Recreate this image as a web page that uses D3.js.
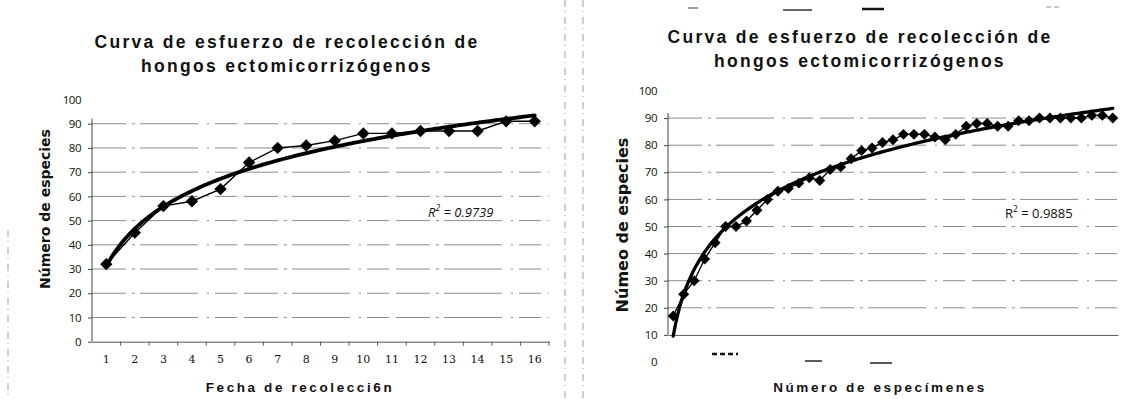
<!DOCTYPE html>
<html>
<head>
<meta charset="utf-8">
<script src="https://cdn.jsdelivr.net/npm/d3@7"></script>
<style>
  body { margin: 0; background: #fff; }
  svg { display: block; }
  text { fill: #111; }
</style>
</head>
<body>
<div id="main"></div>
<script>
// left chart: species found per collection date
const leftDates = [1, 2, 3, 4, 5, 6, 7, 8, 9, 10, 11, 12, 13, 14, 15, 16];
const leftSpecies = [32, 45, 56, 58, 63, 74, 80, 81, 83, 86, 86, 87, 87, 87, 91, 91];
const leftR2 = '0.9739';

// right chart: species vs number of specimens (no tick labels on x)
const rightSpecies = [17, 25, 30, 38, 44, 50, 50, 52, 56, 60, 63, 64, 66, 68, 67, 71, 72,
  75, 78, 79, 81, 82, 84, 84, 84, 83, 82, 84, 87, 88, 88, 87, 87, 89, 89, 90, 90, 90, 90,
  90, 91, 91, 90];
const rightR2 = '0.9885';

const yTicks = [0, 10, 20, 30, 40, 50, 60, 70, 80, 90, 100];
const titleLines = ['Curva de esfuerzo de recolección de', 'hongos ectomicorrizógenos'];

const width = 1126;
const height = 399;

const svg = d3.select('#main').append('svg')
  .attr('width', width)
  .attr('height', height);

// faint scan frame lines
[[8, 230, 399], [565, 0, 399], [583, 0, 399]].forEach(function(l) {
  svg.append('line')
    .attr('x1', l[0]).attr('x2', l[0])
    .attr('y1', l[1]).attr('y2', l[2])
    .attr('stroke', '#a0a0a0')
    .attr('stroke-width', 1)
    .attr('stroke-dasharray', '7,4,1,5');
});

// stray scan marks around the right chart
[[688, 698, 8, 1.5, '#777'], [783, 812, 10, 1.5, '#333'], [862, 884, 9, 2.5, '#111'],
 [1046, 1060, 7, 1, '#999'], [712, 738, 354, 2.5, '#111'], [805, 822, 361, 1.5, '#222'],
 [870, 892, 363, 1.5, '#222']].forEach(function(m) {
  svg.append('line')
    .attr('x1', m[0]).attr('x2', m[1])
    .attr('y1', m[2]).attr('y2', m[2])
    .attr('stroke', m[4])
    .attr('stroke-width', m[3])
    .attr('stroke-dasharray', m[0] === 712 || m[0] === 1046 ? '5,3' : null);
});

// least squares fit y = a*ln(x) + b, same as the spreadsheet trendline
function logFit(values) {
  const xs = values.map(function(d, i) { return Math.log(i + 1); });
  const mx = d3.mean(xs);
  const my = d3.mean(values);
  let sxy = 0, sxx = 0;
  xs.forEach(function(x, i) {
    sxy += (x - mx) * (values[i] - my);
    sxx += (x - mx) * (x - mx);
  });
  const a = sxy / sxx;
  return { a: a, b: my - a * mx };
}

function drawPanel(cfg) {
  const g = svg.append('g');
  const n = cfg.values.length;

  const x = d3.scaleBand()
    .domain(d3.range(1, n + 1))
    .range([cfg.left, cfg.right]);
  const half = x.bandwidth() / 2;
  const xc = d3.scaleLinear()
    .domain([1, n])
    .range([x(1) + half, x(n) + half]);
  const y = d3.scaleLinear()
    .domain([0, 100])
    .range([cfg.y0, cfg.y100]);

  // title
  g.selectAll('text.title')
    .data(titleLines)
    .enter()
    .append('text')
    .attr('class', 'title')
    .attr('x', cfg.titleX)
    .attr('y', function(d, i) { return cfg.titleY + i * 24; })
    .attr('text-anchor', 'middle')
    .style('font-family', 'Liberation Sans, Arial, sans-serif')
    .style('font-weight', 'bold')
    .style('font-size', '17.5px')
    .style('letter-spacing', '2.3px')
    .text(function(d) { return d; });

  // gridlines
  g.selectAll('line.grid')
    .data(yTicks.filter(function(t) { return t > cfg.yBase && t < 100; }))
    .enter()
    .append('line')
    .attr('class', 'grid')
    .attr('x1', cfg.left)
    .attr('x2', cfg.right)
    .attr('y1', function(d) { return y(d); })
    .attr('y2', function(d) { return y(d); })
    .attr('stroke', '#8c8c8c')
    .attr('stroke-width', 1)
    .attr('stroke-dasharray', '34,6,3,5,58,9,2,6,22,7');

  // y axis
  const yAxis = d3.axisLeft(y)
    .tickValues(yTicks)
    .tickSize(4)
    .tickPadding(7);
  const ya = g.append('g')
    .attr('transform', `translate(${cfg.left},0)`)
    .call(yAxis);
  ya.select('.domain')
    .attr('d', `M0,${y(90) - 5}V${y(cfg.yBase)}`)
    .attr('stroke', '#444');
  ya.selectAll('.tick line')
    .attr('stroke', '#444')
    .style('display', function(d) { return (d < cfg.yBase || d === 100) ? 'none' : null; });
  ya.selectAll('.tick text')
    .style('font-family', 'Open Sans, Liberation Sans, sans-serif')
    .style('font-size', '11.5px')
    .style('letter-spacing', '-0.5px')
    .attr('fill', '#111');

  // x axis
  const xAxis = d3.axisBottom(x)
    .tickSize(0)
    .tickPadding(cfg.showX ? 14 : 0);
  const xa = g.append('g')
    .attr('transform', `translate(0,${y(cfg.yBase)})`)
    .call(xAxis);
  xa.select('.domain').attr('stroke', '#555');
  if (cfg.showX) {
    xa.selectAll('.tick text')
      .style('font-family', 'DejaVu Serif, Liberation Serif, serif')
      .style('font-size', '11px')
      .attr('fill', '#111');
    xa.selectAll('line.edge')
      .data(d3.range(1, n + 1))
      .enter()
      .append('line')
      .attr('class', 'edge')
      .attr('x1', function(d) { return x(d) + x.bandwidth(); })
      .attr('x2', function(d) { return x(d) + x.bandwidth(); })
      .attr('y1', 0)
      .attr('y2', 4)
      .attr('stroke', '#555');
  } else {
    xa.selectAll('.tick').remove();
  }

  // trend line
  const fit = logFit(cfg.values);
  const steps = d3.range(1, n + 0.001, (n - 1) / 200);
  const trend = d3.line()
    .x(function(t) { return xc(t); })
    .y(function(t) { return y(fit.a * Math.log(t) + fit.b); });
  g.append('path')
    .datum(steps)
    .attr('fill', 'none')
    .attr('stroke', '#000')
    .attr('stroke-width', cfg.trendWidth)
    .attr('stroke-linecap', 'round')
    .attr('d', trend);

  // data line + diamonds
  const dataLine = d3.line()
    .x(function(d, i) { return xc(i + 1); })
    .y(function(d) { return y(d); });
  g.append('path')
    .datum(cfg.values)
    .attr('fill', 'none')
    .attr('stroke', '#000')
    .attr('stroke-width', 1.4)
    .attr('d', dataLine);

  g.selectAll('path.pt')
    .data(cfg.values)
    .enter()
    .append('path')
    .attr('class', 'pt')
    .attr('d', d3.symbol(d3.symbolSquare, cfg.markerSize))
    .attr('transform', function(d, i) {
      return `translate(${xc(i + 1)},${y(d)}) rotate(45)`;
    })
    .attr('fill', '#000');

  // R squared label
  const r2 = g.append('text')
    .attr('x', cfg.r2X)
    .attr('y', cfg.r2Y)
    .attr('fill', '#111')
    .style('font-family', 'Open Sans, Liberation Sans, sans-serif')
    .style('font-size', '13px')
    .style('font-style', cfg.r2Italic ? 'italic' : 'normal');
  r2.append('tspan').text('R');
  r2.append('tspan').attr('dy', -6).style('font-size', '8.5px').text('2');
  r2.append('tspan').attr('dy', 6).text(' = ' + cfg.r2);

  // axis titles
  g.append('text')
    .attr('transform', `translate(${cfg.yTitleX},${cfg.yTitleY}) rotate(-90)`)
    .attr('text-anchor', 'middle')
    .style('font-family', 'DejaVu Sans, sans-serif')
    .style('font-weight', 'bold')
    .style('font-size', cfg.yTitleSize)
    .text(cfg.yTitle);

  g.append('text')
    .attr('x', cfg.xTitleX)
    .attr('y', 392)
    .attr('text-anchor', 'middle')
    .style('font-family', 'Liberation Sans, Arial, sans-serif')
    .style('font-weight', 'bold')
    .style('font-size', '13.5px')
    .style('letter-spacing', '2.6px')
    .text(cfg.xTitle);
}

drawPanel({
  values: leftSpecies,
  left: 92, right: 549,
  y0: 341.7, y100: 99.5,
  yBase: 0,
  showX: true,
  titleX: 287, titleY: 48,
  trendWidth: 3.8,
  markerSize: 76,
  r2: leftR2, r2X: 428, r2Y: 217, r2Italic: true,
  yTitle: 'Número de especies', yTitleX: 50, yTitleY: 209, yTitleSize: '14px',
  xTitle: 'Fecha de recolecci6n', xTitleX: 300
});

drawPanel({
  values: rightSpecies,
  left: 668, right: 1118,
  y0: 362, y100: 91,
  yBase: 10,
  showX: false,
  titleX: 860, titleY: 43,
  trendWidth: 3.3,
  markerSize: 60,
  r2: rightR2, r2X: 1005, r2Y: 218, r2Italic: false,
  yTitle: 'Númeo de especies', yTitleX: 628, yTitleY: 225, yTitleSize: '16px',
  xTitle: 'Número de especímenes', xTitleX: 880
});
</script>
</body>
</html>
